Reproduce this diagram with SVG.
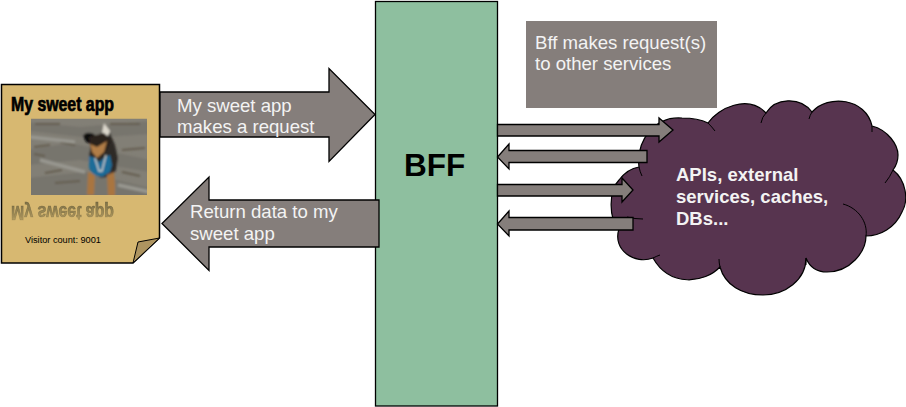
<svg xmlns="http://www.w3.org/2000/svg" width="906" height="407" viewBox="0 0 906 407">
<style>
text{font-family:"Liberation Sans",Arial,sans-serif}
.ar{fill:#857e7b;stroke:#000;stroke-width:1.3;stroke-linejoin:miter}
.lb{fill:#f3f3f3;font-size:18.6px}
.cl{fill:none;stroke:#000;stroke-width:1}
.ti{font-size:19.5px;font-weight:bold;stroke-width:.7px}
.cb{fill:#f3f3f3;font-size:18.5px;font-weight:bold}
</style>
<defs>
<clipPath id="ph"><rect x="31" y="118.500" width="116" height="76.500"/></clipPath>
<filter id="b1" x="-10%" y="-10%" width="120%" height="120%"><feGaussianBlur stdDeviation=".9"/></filter>
<filter id="b2" x="-10%" y="-30%" width="120%" height="160%"><feGaussianBlur stdDeviation=".7"/></filter>
<linearGradient id="rf" x1="0" y1="0" x2="0" y2="1"><stop offset="0" stop-color="#5a5334" stop-opacity=".2"/><stop offset="1" stop-color="#5a5334" stop-opacity=".7"/></linearGradient>
</defs>
<g id="app">
<path d="M1.500,84.500H159.500V238L133,263H1.500Z" fill="#d7b871" stroke="#000" stroke-width="1.500"/>
<path d="M133,263L138,242L159.500,238Z" fill="#ad9460" stroke="#000" stroke-width="1"/>
<text class="ti" x="11" y="111" textLength="103" lengthAdjust="spacingAndGlyphs" fill="#000" stroke="#000">My sweet app</text>
<g clip-path="url(#ph)">
<rect x="31" y="118.500" width="116" height="76.500" fill="#827f76"/>
<g filter="url(#b1)">
<path d="M25,122L80,127L150,121V134L90,138L30,131ZM28,150L70,143L150,160V172L80,160L28,165ZM28,178L85,172L150,188V198H28Z" fill="#77756d"/>
<path d="M35,124H60M110,124H140M34,147L50,145M60,142L75,145M45,173L62,170M34,154L45,156M122,172L140,176M55,183L80,181M122,150L145,148" stroke="#655d50" stroke-width="2" fill="none"/>
<path d="M40,160L85,172M30,137L75,142M118,185L150,192" stroke="#989790" stroke-width="3.500" fill="none"/>
<path d="M102,132L110,133L115,145L118,158L116,170L112,176L101,178L90,170L89,155L92,142Z" fill="#2d2926"/>
<path d="M102,133L104,123L110,131L108,136Z" fill="#dcd7cc"/>
<path d="M83,136C85,132 91,132 95,135L91,144L86,142Z" fill="#0f0f0f"/>
<path d="M89,137L104,133L111,141L106,152L98,158L91,153Z" fill="#2a211b"/>
<path d="M90,144L97,147L107,141L104,152L97,158L92,152Z" fill="#b17d46"/>
<path d="M89,156L95,158L99,162L105,157L110,155L112,165L110,172L102,177L94,175L89,168Z" fill="#1d6c98"/>
<path d="M95,158L99,171L102,171L106,155" fill="none" stroke="#d2d3cf" stroke-width="1.300"/>
<path d="M88,172L95,175L94,195H87ZM107,175L114,172L115,184L115,196H108Z" fill="#a9753f"/>
</g>
</g>
<g filter="url(#b2)"><text class="ti" transform="translate(0,317) scale(1,-1)" x="11" y="111" textLength="103" lengthAdjust="spacingAndGlyphs" fill="url(#rf)" stroke="url(#rf)">My sweet app</text></g>
<text x="25" y="243" font-size="9.200" fill="#000">Visitor count: 9001</text>
</g>
<g id="bff">
<rect x="375.500" y="1.500" width="122" height="404.500" fill="#8ebf9f" stroke="#000" stroke-width="1.300"/>
<text x="404" y="176" font-size="31.500" font-weight="bold" fill="#000">BFF</text>
</g>
<g id="note">
<rect x="526" y="21" width="191" height="87" fill="#857e7b"/>
<text class="lb" x="535" y="49">Bff makes request(s)</text>
<text class="lb" x="535" y="70">to other services</text>
</g>
<g id="cloud">
<path d="M639,167C636,140 655,116 682,118C692,118 702,120 708,123C718,108 748,94 766,113C775,98 800,96 812,112C828,94 866,98 872,126C888,130 898,145 898,155C898,161 896,166 893,170C906,180 909,200 902,212C895,228 880,236 866,236C866,252 850,272 827,272C818,272 810,268 806,258C806,280 785,295 763,295C742,295 725,285 720,267C705,283 670,288 653,258C635,265 612,250 619,229C608,218 609,190 619,180C625,172 632,168 639,167Z" fill="#57344f" stroke="#000" stroke-width="1.200"/>
<path class="cl" d="M708,123Q712,127 715,131M766,113Q762,117 761,123M812,112Q810,115 809,119M872,126V132M893,170Q890,177 885,183M843,204C858,208 868,222 866,236M806,258V265M720,267Q719,263 719,259M653,258Q657,256 660,255M627,217Q635,219 643,219M639,167Q640,172 642,176"/>
<text class="cb" x="676" y="181">APIs, external</text>
<text class="cb" x="676" y="203">services, caches,</text>
<text class="cb" x="676" y="225">DBs...</text>
</g>
<g id="connectors">
<g id="req">
<path class="ar" d="M160,92H329V68.500L375,114.500L329,161.500V137H160Z"/>
<text class="lb" x="177" y="112">My sweet app</text>
<text class="lb" x="177" y="133">makes a request</text>
</g>
<g id="ret">
<path class="ar" d="M379,200H209V177L162,223.500L209,270.500V247H379Z"/>
<text class="lb" x="190" y="218">Return data to my</text>
<text class="lb" x="190" y="240">sweet app</text>
</g>
<path class="ar" d="M497.500,124.500H659V118L673,130L659,142V136H497.500Z"/>
<path class="ar" d="M647,150.500H509V144L497.500,157L509,169V162.500H647Z"/>
<path class="ar" d="M497.500,184.500H622V178L633,190L622,202V196H497.500Z"/>
<path class="ar" d="M633,217.500H509V211L497.500,224L509,236V230H633Z"/>
</g>
</svg>
